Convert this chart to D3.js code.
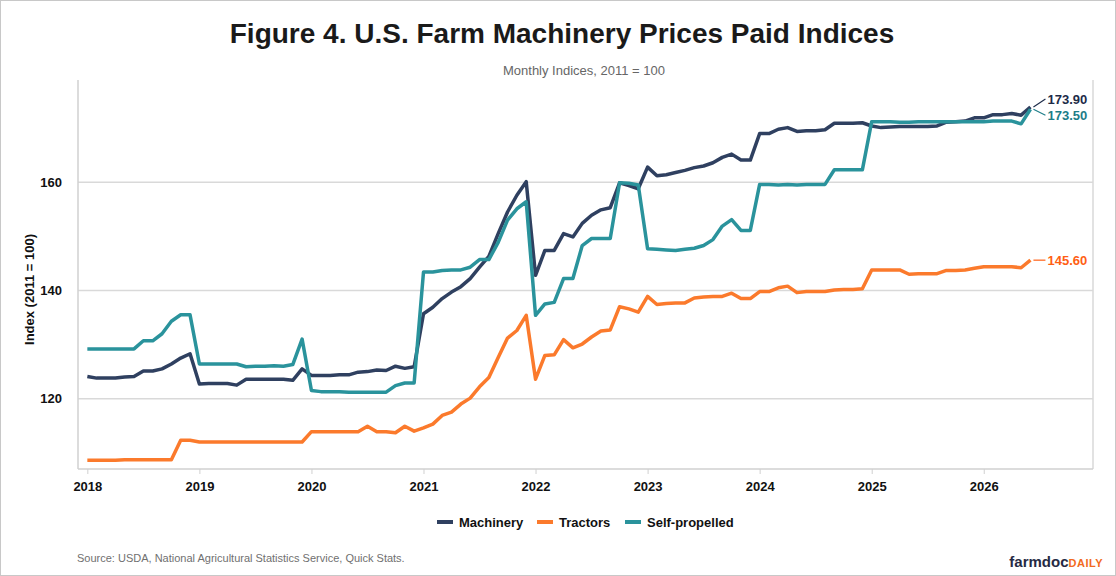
<!DOCTYPE html>
<html>
<head>
<meta charset="utf-8">
<script src="https://cdn.jsdelivr.net/npm/d3@7"></script>
<style>
  body { margin: 0; background: #fff; }
  svg { font-family: Arial, "Liberation Sans", sans-serif; display: block; }
</style>
</head>
<body>
<svg id="chart" width="1116" height="576"></svg>
<script>
// Monthly values, Jan 2018 .. Jun 2026
const startYear = 2018;
const yearTicks = [2018, 2019, 2020, 2021, 2022, 2023, 2024, 2025, 2026];
const yTicks = [120, 140, 160];

const machinery = [
  124.1, 123.8, 123.8, 123.8, 124.0, 124.1, 125.1, 125.1, 125.5, 126.4, 127.5, 128.3,
  122.7, 122.8, 122.8, 122.8, 122.5, 123.6, 123.6, 123.6, 123.6, 123.6, 123.4, 125.5,
  124.3, 124.3, 124.3, 124.4, 124.4, 124.9, 125.0, 125.3, 125.2, 126.0, 125.6, 125.9,
  135.7, 136.9, 138.5, 139.7, 140.7, 142.2, 144.3, 146.3, 150.5, 154.5, 157.6, 160.1,
  142.8, 147.4, 147.4, 150.5, 149.9, 152.4, 153.9, 154.9, 155.3, 159.9, 159.4, 158.8,
  162.8, 161.2, 161.4, 161.8, 162.2, 162.7, 163.0, 163.6, 164.6, 165.2, 164.1, 164.1,
  169.0, 169.0, 169.8, 170.1, 169.4, 169.5, 169.5, 169.7, 170.9, 170.9, 170.9, 171.0,
  170.4, 170.1, 170.2, 170.3, 170.3, 170.3, 170.3, 170.4, 171.1, 171.2, 171.3, 171.9,
  171.9, 172.5, 172.5, 172.7, 172.4, 173.9
];
const tractors = [
  108.6, 108.6, 108.6, 108.6, 108.7, 108.7, 108.7, 108.7, 108.7, 108.7, 112.3, 112.3,
  112.0, 112.0, 112.0, 112.0, 112.0, 112.0, 112.0, 112.0, 112.0, 112.0, 112.0, 112.0,
  113.9, 113.9, 113.9, 113.9, 113.9, 113.9, 114.9, 113.9, 113.9, 113.7, 114.9, 114.0,
  114.6, 115.3, 116.9, 117.5, 119.0, 120.1, 122.2, 123.9, 127.6, 131.2, 132.6, 135.4,
  123.6, 128.0, 128.1, 130.9, 129.4, 130.1, 131.4, 132.5, 132.7, 137.0, 136.6, 136.0,
  138.9, 137.4, 137.6, 137.7, 137.7, 138.6, 138.8, 138.9, 138.9, 139.5, 138.5, 138.5,
  139.8, 139.8, 140.5, 140.8, 139.6, 139.8, 139.8, 139.8, 140.1, 140.2, 140.2, 140.3,
  143.8, 143.8, 143.8, 143.8, 143.0, 143.1, 143.1, 143.1, 143.7, 143.7, 143.8, 144.1,
  144.4, 144.4, 144.4, 144.4, 144.2, 145.6
];
const selfPropelled = [
  129.2, 129.2, 129.2, 129.2, 129.2, 129.2, 130.7, 130.7, 132.0, 134.3, 135.5, 135.5,
  126.4, 126.4, 126.4, 126.4, 126.4, 125.9, 126.0, 126.0, 126.1, 126.0, 126.3, 131.0,
  121.5, 121.3, 121.3, 121.3, 121.2, 121.2, 121.2, 121.2, 121.2, 122.4, 122.9, 122.9,
  143.4, 143.4, 143.7, 143.8, 143.8, 144.3, 145.7, 145.7, 148.9, 153.0, 155.1, 156.4,
  135.4, 137.5, 137.8, 142.2, 142.2, 148.3, 149.6, 149.6, 149.6, 159.9, 159.8, 159.5,
  147.7, 147.6, 147.5, 147.4, 147.6, 147.8, 148.3, 149.4, 151.9, 153.1, 151.1, 151.1,
  159.6, 159.6, 159.5, 159.6, 159.5, 159.6, 159.6, 159.6, 162.3, 162.3, 162.3, 162.3,
  171.2, 171.2, 171.2, 171.1, 171.1, 171.2, 171.2, 171.2, 171.2, 171.2, 171.2, 171.2,
  171.2, 171.3, 171.3, 171.3, 170.8, 173.5
];
const seriesNames = ["Machinery", "Tractors", "Self-propelled"];
const endLabels = ["173.90", "145.60", "173.50"];

const colors = ["#2f4060", "#fb7a2c", "#2a939c"];
const labelColors = ["#1c2a48", "#ff5f14", "#1d7d88"];

const svg = d3.select("#chart");
const W = 1116, H = 576;

// outer frame
svg.append("rect").attr("x", 0.5).attr("y", 0.5).attr("width", W - 1).attr("height", H - 1)
   .attr("fill", "#fff").attr("stroke", "#c8c8c8");

svg.append("text").attr("x", 562).attr("y", 43).attr("text-anchor", "middle")
   .attr("font-size", 28).attr("font-weight", "bold").attr("fill", "#1a1a1a")
   .text("Figure 4. U.S. Farm Machinery Prices Paid Indices");
svg.append("text").attr("x", 584).attr("y", 75).attr("text-anchor", "middle")
   .attr("font-size", 13).attr("fill", "#666")
   .text("Monthly Indices, 2011 = 100");

const pL = 78, pR = 1093, pT = 80, pB = 469;
const x = d3.scaleLinear().domain([-1, 107.7]).range([pL, pR]);
const y = d3.scaleLinear().domain([107, 178.9]).range([pB, pT]);

// gridlines
svg.append("g").selectAll("line").data(yTicks).join("line")
   .attr("x1", pL).attr("x2", pR).attr("y1", d => y(d)).attr("y2", d => y(d))
   .attr("stroke", "#d9d9d9").attr("stroke-width", 1.5);
svg.append("line").attr("x1", pR).attr("x2", pR).attr("y1", pT).attr("y2", pB)
   .attr("stroke", "#d9d9d9").attr("stroke-width", 1.5);

// axes
const xAxis = svg.append("g").attr("transform", `translate(0,${pB})`)
   .call(d3.axisBottom(x).tickValues(yearTicks.map(yr => (yr - startYear) * 12))
         .tickFormat(d => startYear + d / 12).tickSize(5).tickPadding(8));
xAxis.select(".domain").attr("stroke", "#d0d0d0").attr("stroke-width", 1.5)
   .attr("d", `M${pL},0H${pR}`);
xAxis.selectAll(".tick line").attr("stroke", "#d0d0d0");
xAxis.selectAll("text").attr("font-size", 13).attr("font-weight", "bold").attr("fill", "#111");

const yAxis = svg.append("g").attr("transform", `translate(${pL},0)`)
   .call(d3.axisLeft(y).tickValues(yTicks).tickSize(0).tickPadding(16));
yAxis.select(".domain").attr("stroke", "#d0d0d0").attr("stroke-width", 1.5)
   .attr("d", `M0,${pT}V${pB}`);
yAxis.selectAll("text").attr("font-size", 13).attr("font-weight", "bold").attr("fill", "#111");

svg.append("text").attr("transform", `translate(34,${(pT + pB) / 2 + 15}) rotate(-90)`)
   .attr("text-anchor", "middle").attr("font-size", 13).attr("font-weight", "bold")
   .attr("fill", "#111").text("Index (2011 = 100)");

// lines
const line = d3.line().x((d, i) => x(i)).y(d => y(d));
const allSeries = [machinery, tractors, selfPropelled];
const drawOrder = [1, 0, 2];
drawOrder.forEach(k => {
  svg.append("path").datum(allSeries[k]).attr("d", line)
     .attr("fill", "none").attr("stroke", colors[k]).attr("stroke-width", 3.5)
     .attr("stroke-linejoin", "round");
});

// end labels
const labelY = [y(173.9) - 8, y(145.6), y(173.5) + 6];
allSeries.forEach((s, k) => {
  const lx = x(s.length - 1), ly = y(s[s.length - 1]);
  svg.append("line").attr("x1", lx + 3).attr("y1", ly).attr("x2", lx + 15).attr("y2", labelY[k])
     .attr("stroke", labelColors[k]).attr("stroke-width", 1.2);
  svg.append("text").attr("x", lx + 17).attr("y", labelY[k] + 4.5)
     .attr("font-size", 13).attr("font-weight", "bold").attr("fill", labelColors[k])
     .text(endLabels[k]);
});

// legend
const legendX = [437, 537, 625];
seriesNames.forEach((n, k) => {
  svg.append("line").attr("x1", legendX[k]).attr("x2", legendX[k] + 16)
     .attr("y1", 522).attr("y2", 522).attr("stroke", colors[k]).attr("stroke-width", 4);
  svg.append("text").attr("x", legendX[k] + 22).attr("y", 527)
     .attr("font-size", 13).attr("font-weight", "bold").attr("fill", "#111").text(n);
});

svg.append("text").attr("x", 77).attr("y", 562).attr("font-size", 11).attr("fill", "#707070")
   .text("Source: USDA, National Agricultural Statistics Service, Quick Stats.");

const logo = svg.append("text").attr("x", 1103).attr("y", 567).attr("text-anchor", "end")
   .attr("font-weight", "bold");
logo.append("tspan").attr("font-size", 15).attr("fill", "#262a44").text("farmdoc");
logo.append("tspan").attr("font-size", 11).attr("fill", "#f26a21").attr("letter-spacing", 0.5).text("DAILY");
</script>
</body>
</html>
